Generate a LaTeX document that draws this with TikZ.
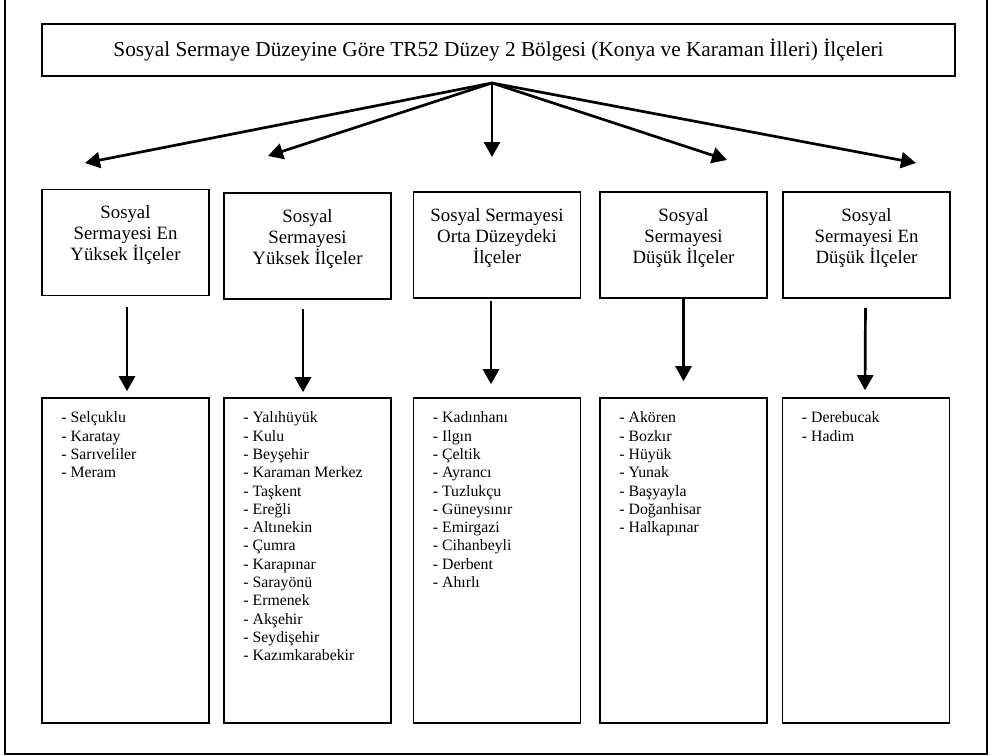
\documentclass[tikz,border=0pt]{standalone}
\usepackage{fontspec}
\setmainfont{Liberation Serif}
\usetikzlibrary{arrows.meta}

\tikzset{
  box/.style={draw, line width=1.6pt, inner sep=0pt},
  headbox/.style={box, minimum width=167pt, minimum height=106pt},
  listbox/.style={box, minimum width=167pt, minimum height=325pt},
  headtxt/.style={anchor=north, align=center, inner sep=0pt, font=\fontsize{18.8}{21}\selectfont},
  listtxt/.style={anchor=north west, align=left, inner sep=0pt, font=\fontsize{15.8}{18.3}\selectfont},
  arr/.style={->, line width=2.7pt},
}

\begin{document}
\begin{tikzpicture}[x=1pt,y=-1pt,>={Triangle[length=15pt,width=16pt]}]
\useasboundingbox (0,0) rectangle (995,755);
% frame round the figure (its top lies off the page)
\draw[line width=1.5pt] (5,-5) -- (5,754) -- (987,754) -- (987,-5);

\node[box, minimum width=913pt, minimum height=52pt, font=\fontsize{21.3}{24}\selectfont] (T) at (498.5,50)
  {Sosyal Sermaye Düzeyine Göre TR52 Düzey 2 Bölgesi (Konya ve Karaman İlleri) İlçeleri};

% groups
\node[headbox] (H1) at (125.5,242.5) {};
\node[headbox] (H2) at (307.5,246) {};
\node[headbox] (H3) at (497,245) {};
\node[headbox] (H4) at (683.5,245) {};
\node[headbox] (H5) at (866.5,245) {};

\node[headtxt] (h1) at ([yshift=-17pt]H1.north) {Sosyal\\Sermayesi En\\Yüksek İlçeler};
\node[headtxt] (h2) at ([yshift=-17pt]H2.north) {Sosyal\\Sermayesi\\Yüksek İlçeler};
\node[headtxt] (h3) at ([yshift=-17pt]H3.north) {Sosyal Sermayesi\\Orta Düzeydeki\\İlçeler};
\node[headtxt] (h4) at ([yshift=-17pt]H4.north) {Sosyal\\Sermayesi\\Düşük İlçeler};
\node[headtxt] (h5) at ([yshift=-17pt]H5.north) {Sosyal\\Sermayesi En\\Düşük İlçeler};

% district lists
\node[listbox] (L1) at (125.5,560.5) {};
\node[listbox] (L2) at (307.5,560.5) {};
\node[listbox] (L3) at (497,560.5) {};
\node[listbox] (L4) at (683.5,560.5) {};
\node[listbox] (L5) at (866,560.5) {};

\node[listtxt] (l1) at ([xshift=20pt,yshift=-14.5pt]L1.north west)
  {- Selçuklu\\- Karatay\\- Sarıveliler\\- Meram};
\node[listtxt] (l2) at ([xshift=20pt,yshift=-14.5pt]L2.north west)
  {- Yalıhüyük\\- Kulu\\- Beyşehir\\- Karaman Merkez\\- Taşkent\\- Ereğli\\- Altınekin\\- Çumra\\- Karapınar\\- Sarayönü\\- Ermenek\\- Akşehir\\- Seydişehir\\- Kazımkarabekir};
\node[listtxt] (l3) at ([xshift=20pt,yshift=-14.5pt]L3.north west)
  {- Kadınhanı\\- Ilgın\\- Çeltik\\- Ayrancı\\- Tuzlukçu\\- Güneysınır\\- Emirgazi\\- Cihanbeyli\\- Derbent\\- Ahırlı};
\node[listtxt] (l4) at ([xshift=20pt,yshift=-14.5pt]L4.north west)
  {- Akören\\- Bozkır\\- Hüyük\\- Yunak\\- Başyayla\\- Doğanhisar\\- Halkapınar};
\node[listtxt] (l5) at ([xshift=20pt,yshift=-14.5pt]L5.north west)
  {- Derebucak\\- Hadim};

% fan of arrows from the title
\coordinate (O) at (492,83);
\coordinate (t1) at (85,163);
\coordinate (t2) at (268,156);
\coordinate (t3) at (492,157);
\coordinate (t4) at (727,160);
\coordinate (t5) at (916,163);
\draw[arr] (O) -- (t1);
\draw[arr] (O) -- (t2);
\draw[arr] (O) -- (t3);
\draw[arr] (O) -- (t4);
\draw[arr] (O) -- (t5);

% down to the lists
\draw[arr, shorten <=11pt, shorten >=6pt] ([xshift=1.5pt]H1.south) -- ([xshift=1.5pt]L1.north);
\draw[arr, shorten <=9pt, shorten >=5pt] ([xshift=-4.5pt]H2.south) -- ([xshift=-4.5pt]L2.north);
\draw[arr, shorten <=2pt, shorten >=13pt] ([xshift=-6pt]H3.south) -- ([xshift=-6pt]L3.north);
\draw[arr, shorten <=0pt, shorten >=16pt] (H4.south) -- (L4.north);
\draw[arr, shorten <=9pt, shorten >=7pt] ([xshift=-1pt]H5.south) -- ([xshift=-1pt]L5.north);
\end{tikzpicture}
\end{document}
